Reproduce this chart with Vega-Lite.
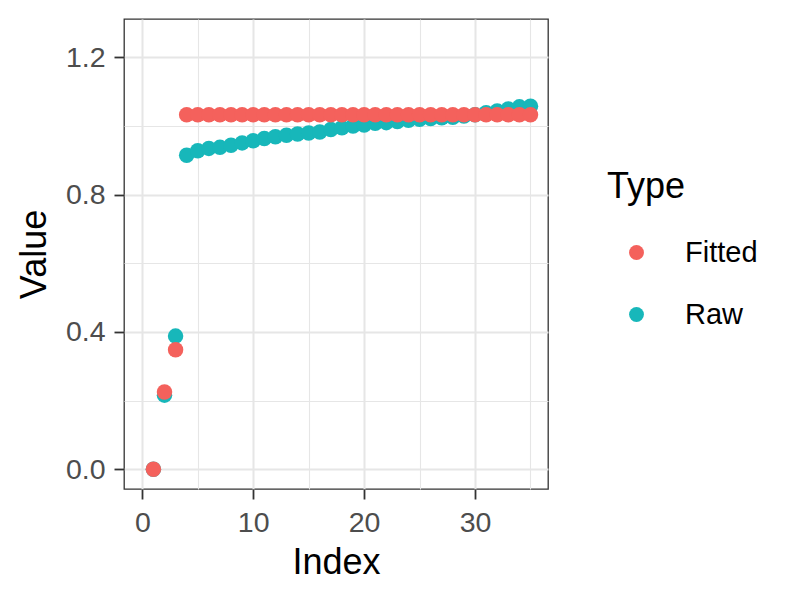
{
  "$schema": "https://vega.github.io/schema/vega-lite/v6.json",
  "width": 424,
  "height": 470,
  "autosize": {"type": "none"},
  "padding": {"left": 124, "top": 19, "right": 252, "bottom": 111},
  "background": "white",
  "config": {
    "font": "Liberation Sans",
    "view": {"stroke": "#333333", "strokeWidth": 1.3}
  },
  "data": {
    "values": [
      {"Index": 1, "Value": 0.0, "Type": "Raw"},
      {"Index": 2, "Value": 0.216, "Type": "Raw"},
      {"Index": 3, "Value": 0.388, "Type": "Raw"},
      {"Index": 4, "Value": 0.915, "Type": "Raw"},
      {"Index": 5, "Value": 0.928, "Type": "Raw"},
      {"Index": 6, "Value": 0.935, "Type": "Raw"},
      {"Index": 7, "Value": 0.938, "Type": "Raw"},
      {"Index": 8, "Value": 0.944, "Type": "Raw"},
      {"Index": 9, "Value": 0.951, "Type": "Raw"},
      {"Index": 10, "Value": 0.957, "Type": "Raw"},
      {"Index": 11, "Value": 0.964, "Type": "Raw"},
      {"Index": 12, "Value": 0.969, "Type": "Raw"},
      {"Index": 13, "Value": 0.973, "Type": "Raw"},
      {"Index": 14, "Value": 0.977, "Type": "Raw"},
      {"Index": 15, "Value": 0.980, "Type": "Raw"},
      {"Index": 16, "Value": 0.983, "Type": "Raw"},
      {"Index": 17, "Value": 0.990, "Type": "Raw"},
      {"Index": 18, "Value": 0.995, "Type": "Raw"},
      {"Index": 19, "Value": 1.000, "Type": "Raw"},
      {"Index": 20, "Value": 1.003, "Type": "Raw"},
      {"Index": 21, "Value": 1.008, "Type": "Raw"},
      {"Index": 22, "Value": 1.010, "Type": "Raw"},
      {"Index": 23, "Value": 1.013, "Type": "Raw"},
      {"Index": 24, "Value": 1.017, "Type": "Raw"},
      {"Index": 25, "Value": 1.020, "Type": "Raw"},
      {"Index": 26, "Value": 1.022, "Type": "Raw"},
      {"Index": 27, "Value": 1.024, "Type": "Raw"},
      {"Index": 28, "Value": 1.026, "Type": "Raw"},
      {"Index": 29, "Value": 1.029, "Type": "Raw"},
      {"Index": 30, "Value": 1.033, "Type": "Raw"},
      {"Index": 31, "Value": 1.039, "Type": "Raw"},
      {"Index": 32, "Value": 1.044, "Type": "Raw"},
      {"Index": 33, "Value": 1.050, "Type": "Raw"},
      {"Index": 34, "Value": 1.056, "Type": "Raw"},
      {"Index": 35, "Value": 1.058, "Type": "Raw"},
      {"Index": 1, "Value": 0.0, "Type": "Fitted"},
      {"Index": 2, "Value": 0.225, "Type": "Fitted"},
      {"Index": 3, "Value": 0.348, "Type": "Fitted"},
      {"Index": 4, "Value": 1.033, "Type": "Fitted"},
      {"Index": 5, "Value": 1.033, "Type": "Fitted"},
      {"Index": 6, "Value": 1.033, "Type": "Fitted"},
      {"Index": 7, "Value": 1.033, "Type": "Fitted"},
      {"Index": 8, "Value": 1.033, "Type": "Fitted"},
      {"Index": 9, "Value": 1.033, "Type": "Fitted"},
      {"Index": 10, "Value": 1.033, "Type": "Fitted"},
      {"Index": 11, "Value": 1.033, "Type": "Fitted"},
      {"Index": 12, "Value": 1.033, "Type": "Fitted"},
      {"Index": 13, "Value": 1.033, "Type": "Fitted"},
      {"Index": 14, "Value": 1.033, "Type": "Fitted"},
      {"Index": 15, "Value": 1.033, "Type": "Fitted"},
      {"Index": 16, "Value": 1.033, "Type": "Fitted"},
      {"Index": 17, "Value": 1.033, "Type": "Fitted"},
      {"Index": 18, "Value": 1.033, "Type": "Fitted"},
      {"Index": 19, "Value": 1.033, "Type": "Fitted"},
      {"Index": 20, "Value": 1.033, "Type": "Fitted"},
      {"Index": 21, "Value": 1.033, "Type": "Fitted"},
      {"Index": 22, "Value": 1.033, "Type": "Fitted"},
      {"Index": 23, "Value": 1.033, "Type": "Fitted"},
      {"Index": 24, "Value": 1.033, "Type": "Fitted"},
      {"Index": 25, "Value": 1.033, "Type": "Fitted"},
      {"Index": 26, "Value": 1.033, "Type": "Fitted"},
      {"Index": 27, "Value": 1.033, "Type": "Fitted"},
      {"Index": 28, "Value": 1.033, "Type": "Fitted"},
      {"Index": 29, "Value": 1.033, "Type": "Fitted"},
      {"Index": 30, "Value": 1.033, "Type": "Fitted"},
      {"Index": 31, "Value": 1.033, "Type": "Fitted"},
      {"Index": 32, "Value": 1.033, "Type": "Fitted"},
      {"Index": 33, "Value": 1.033, "Type": "Fitted"},
      {"Index": 34, "Value": 1.033, "Type": "Fitted"},
      {"Index": 35, "Value": 1.033, "Type": "Fitted"}
    ]
  },
  "mark": {"type": "point", "filled": true, "opacity": 1, "size": 240, "shape": "circle"},
  "encoding": {
    "x": {
      "field": "Index",
      "type": "quantitative",
      "scale": {"domain": [-1.65, 36.58], "nice": false, "zero": false},
      "axis": {
        "title": "Index",
        "values": [0, 5, 10, 15, 20, 25, 30, 35],
        "labelExpr": "datum.value % 10 === 0 ? datum.label : ''",
        "domain": false,
        "grid": true,
        "gridColor": "#E6E6E6",
        "gridWidth": {"condition": {"test": "datum.value % 10 === 0", "value": 2}, "value": 1.1},
        "tickColor": {"condition": {"test": "datum.value % 10 === 0", "value": "#333333"}, "value": "transparent"},
        "tickSize": 10,
        "tickWidth": 1.8,
        "labelFontSize": 28.5,
        "labelColor": "#4D4D4D",
        "labelPadding": 9,
        "titleFontSize": 36,
        "titleFontWeight": "normal",
        "titleColor": "#000000",
        "titleBaseline": "alphabetic",
        "titleY": 84,
        "titleX": 212
      }
    },
    "y": {
      "field": "Value",
      "type": "quantitative",
      "scale": {"domain": [-0.0575, 1.312], "nice": false, "zero": false},
      "axis": {
        "title": "Value",
        "values": [0, 0.2, 0.4, 0.6, 0.8, 1.0, 1.2],
        "format": ".1f",
        "labelExpr": "round(datum.value * 10) % 4 === 0 ? datum.label : ''",
        "domain": false,
        "grid": true,
        "gridColor": "#E6E6E6",
        "gridWidth": {"condition": {"test": "round(datum.value * 10) % 4 === 0", "value": 2}, "value": 1.1},
        "tickColor": {"condition": {"test": "round(datum.value * 10) % 4 === 0", "value": "#333333"}, "value": "transparent"},
        "tickSize": 10,
        "tickWidth": 1.8,
        "labelFontSize": 28.5,
        "labelColor": "#4D4D4D",
        "labelPadding": 9,
        "titleFontSize": 36,
        "titleFontWeight": "normal",
        "titleColor": "#000000",
        "titleBaseline": "alphabetic",
        "titleAngle": -90,
        "titleX": -79,
        "titleY": 235,
        "titleAlign": "center"
      }
    },
    "color": {
      "field": "Type",
      "type": "nominal",
      "scale": {"domain": ["Fitted", "Raw"], "range": ["#F4615C", "#17B7BA"]},
      "legend": {
        "title": "Type",
        "orient": "none",
        "legendX": 483,
        "legendY": 151,
        "padding": 0,
        "titleFontSize": 36,
        "titleFontWeight": "normal",
        "titleColor": "#000000",
        "titlePadding": 32,
        "labelFontSize": 29,
        "labelColor": "#000000",
        "labelOffset": 34,
        "symbolOffset": 15,
        "symbolSize": 220,
        "symbolType": "circle",
        "symbolStrokeWidth": 0,
        "rowPadding": 32
      }
    }
  }
}
